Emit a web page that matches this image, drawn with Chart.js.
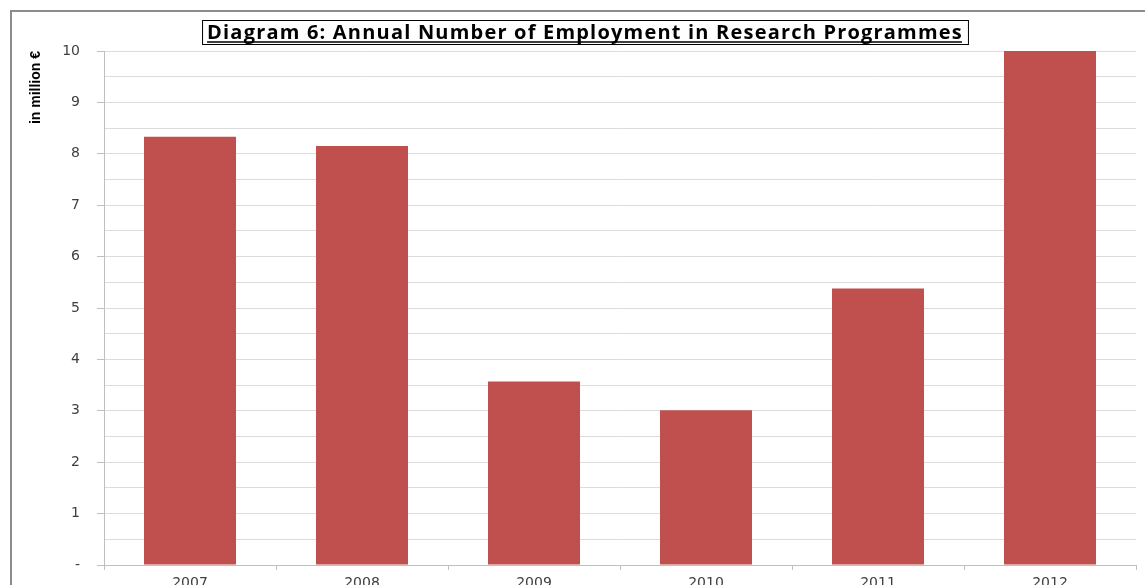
<!DOCTYPE html>
<html>
<head>
<meta charset="utf-8">
<title>Diagram 6</title>
<script src="https://cdn.jsdelivr.net/npm/chart.js@4"></script>
<style>
  html, body { margin: 0; padding: 0; background: #fff; overflow: hidden; }
  #wrap { width: 1145px; height: 605px; }
</style>
</head>
<body>
<div id="wrap"><canvas id="grafico"></canvas></div>
<script>
// dati (milioni di euro)
const anni = ['2007', '2008', '2009', '2010', '2011', '2012'];
const valori = [8.33, 8.15, 3.57, 3.01, 5.38, 10.0];
const titolo = 'Diagram 6: Annual Number of Employment in Research Programmes';
const titoloAsse = 'in million €';

// cornice esterna e riquadro del titolo
const cornice = {
    id: 'cornice',
    beforeDraw(chart) {
        const ctx = chart.ctx;
        ctx.save();
        ctx.strokeStyle = '#8c8c8c';
        ctx.lineWidth = 2;
        ctx.beginPath();
        ctx.moveTo(11, 605);
        ctx.lineTo(11, 11);
        ctx.lineTo(1145, 11);
        ctx.stroke();
        ctx.restore();
    },
    afterDraw(chart) {
        const ctx = chart.ctx;
        ctx.save();
        ctx.font = 'bold 20px "Open Sans", sans-serif';
        ctx.letterSpacing = '1.2px';
        const w = ctx.measureText(titolo).width;
        const cx = 585, cy = 33;
        ctx.fillStyle = '#fff';
        ctx.fillRect(cx - w / 2 - 5, 20, w + 10, 25);
        ctx.strokeStyle = '#000';
        ctx.lineWidth = 1;
        ctx.strokeRect(cx - w / 2 - 5 + 0.5, 20.5, w + 10, 24);
        ctx.fillStyle = '#000';
        ctx.textAlign = 'center';
        ctx.textBaseline = 'middle';
        ctx.fillText(titolo, cx, cy);
        // sottolineatura
        ctx.lineWidth = 1.5;
        ctx.beginPath();
        ctx.moveTo(cx - w / 2, 42);
        ctx.lineTo(cx + w / 2 - 1, 42);
        ctx.stroke();
        ctx.restore();
    }
};

new Chart(document.getElementById('grafico'), {
    type: 'bar',
    data: {
        labels: anni,
        datasets: [{
            data: valori,
            backgroundColor: '#C0504D',
            borderWidth: 0,
            barPercentage: 0.535,
            categoryPercentage: 1
        }]
    },
    options: {
        responsive: true,
        maintainAspectRatio: false,
        animation: false,
        layout: { padding: { left: 0, top: 51, right: 9, bottom: 0 } },
        plugins: { legend: { display: false }, title: { display: false }, tooltip: { enabled: false } },
        scales: {
            x: {
                afterFit(scale) { scale.height = 40; },
                grid: { offset: true, drawOnChartArea: false, drawTicks: true, tickLength: 5, color: '#bfbfbf' },
                border: { color: '#bfbfbf' },
                ticks: { color: '#404040', padding: 5, font: { family: '"DejaVu Sans", sans-serif', size: 14 } }
            },
            y: {
                min: 0,
                max: 10,
                afterFit(scale) { scale.width = 104; },
                ticks: {
                    stepSize: 0.5,
                    padding: 17,
                    color: '#404040',
                    font: { family: '"DejaVu Sans", sans-serif', size: 14 },
                    callback: v => v === 0 ? '-' : (Number.isInteger(v) ? v : '')
                },
                grid: {
                    color: '#dcdcdc',
                    tickLength: 7,
                    tickColor: c => (Number.isInteger(c.tick.value) ? '#bfbfbf' : 'rgba(0,0,0,0)')
                },
                border: { color: '#bfbfbf' },
                title: {
                    display: true,
                    text: titoloAsse,
                    align: 'end',
                    color: '#000',
                    padding: { top: 28, bottom: 0 },
                    font: { family: '"Liberation Sans Narrow", "Liberation Sans", sans-serif', size: 14, weight: 'bold' }
                }
            }
        }
    },
    plugins: [cornice]
});
</script>
</body>
</html>
